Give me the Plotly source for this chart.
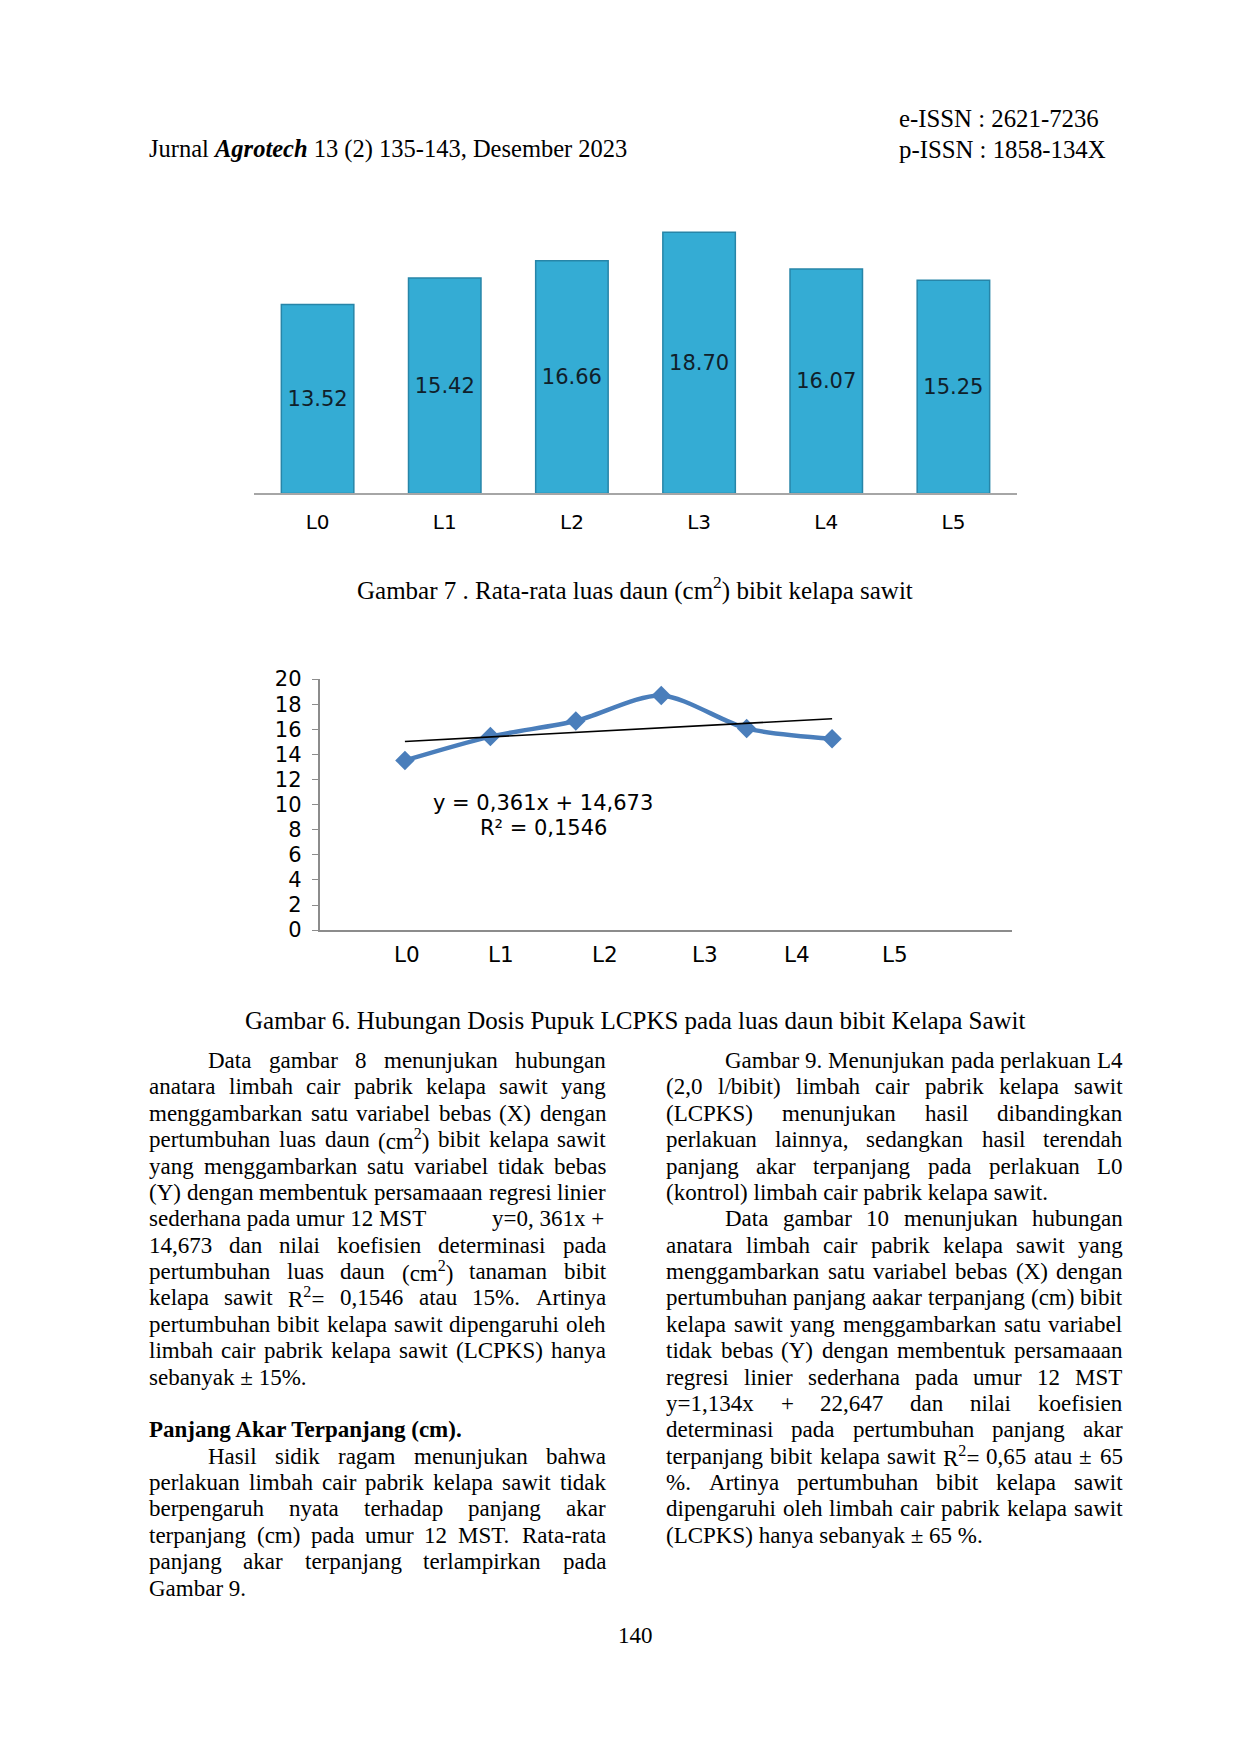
import numpy as np
import plotly.graph_objects as go

# ── data ──────────────────────────────────────
PERLAKUAN = ["L0", "L1", "L2", "L3", "L4", "L5"]
LUAS_DAUN = [13.52, 15.42, 16.66, 18.70, 16.07, 15.25]
X_DOSIS = [1, 2, 3, 4, 5, 6]
Y_TICKS = list(range(0, 21, 2))
EQ_TEXT = "y = 0,361x + 14,673"
R2_TEXT = "R² = 0,1546"

# ── page geometry (pixels of the page) ────────
PAGE_W, PAGE_H = 1240, 1754
OFF = 8                      # browser body margin (horizontal)
W, H = PAGE_W - OFF, PAGE_H - OFF
TOP, K = 18.7, 0.987         # measured vertical placement of the rendered figure


def px(x):
    return (x - OFF) / W


def py(y):
    return 1 - ((y - TOP) / K) / H


SERIF = "Liberation Serif, Times New Roman, serif"
SANS = "DejaVu Sans, Verdana, sans-serif"
FS = 23

# Times-metric advance widths (per 1000 em)
TW = {' ': 250, 'a': 444, 'b': 500, 'c': 444, 'd': 500, 'e': 444, 'f': 333, 'g': 500,
      'h': 500, 'i': 278, 'j': 278, 'k': 500, 'l': 278, 'm': 778, 'n': 500, 'o': 500,
      'p': 500, 'q': 500, 'r': 333, 's': 389, 't': 278, 'u': 500, 'v': 500, 'w': 722,
      'x': 500, 'y': 500, 'z': 444, 'A': 722, 'B': 667, 'C': 667, 'D': 722, 'E': 611,
      'F': 556, 'G': 722, 'H': 722, 'I': 333, 'J': 389, 'K': 722, 'L': 611, 'M': 889,
      'N': 722, 'O': 722, 'P': 556, 'Q': 722, 'R': 667, 'S': 556, 'T': 611, 'U': 722,
      'V': 722, 'W': 944, 'X': 722, 'Y': 722, 'Z': 611, '.': 250, ',': 250, '(': 333,
      ')': 333, '-': 333, '=': 564, '+': 564, '%': 833, '±': 564, '/': 278, ':': 278}


def word_width(w, fs=FS):
    total = 0.0
    sup = False
    i = 0
    while i < len(w):
        if w.startswith("<sup>", i):
            sup = True
            i += 5
            continue
        if w.startswith("</sup>", i):
            sup = False
            i += 6
            continue
        c = w[i]
        cw = 500 if c.isdigit() else TW.get(c, 500)
        total += cw * (0.7 if sup else 1.0)
        i += 1
    return total * fs / 1000


LEFT_COL = [
    ("j", 1, "Data gambar 8 menunjukan hubungan"),
    ("j", 0, "anatara limbah cair pabrik kelapa sawit yang"),
    ("j", 0, "menggambarkan satu variabel bebas (X) dengan"),
    ("j", 0, "pertumbuhan luas daun (cm<sup>2</sup>) bibit kelapa sawit"),
    ("j", 0, "yang menggambarkan satu variabel tidak bebas"),
    ("j", 0, "(Y) dengan membentuk persamaaan regresi linier"),
    ("t", 0, "sederhana pada umur 12 MST\ty=0, 361x +"),
    ("j", 0, "14,673 dan nilai koefisien determinasi pada"),
    ("j", 0, "pertumbuhan luas daun (cm<sup>2</sup>) tanaman bibit"),
    ("j", 0, "kelapa sawit R<sup>2</sup>= 0,1546 atau 15%. Artinya"),
    ("j", 0, "pertumbuhan bibit kelapa sawit dipengaruhi oleh"),
    ("j", 0, "limbah cair pabrik kelapa sawit (LCPKS) hanya"),
    ("l", 0, "sebanyak ± 15%."),
    ("l", 0, ""),
    ("l", 0, "<b>Panjang Akar Terpanjang (cm).</b>"),
    ("j", 1, "Hasil sidik ragam menunjukan bahwa"),
    ("j", 0, "perlakuan limbah cair pabrik kelapa sawit tidak"),
    ("j", 0, "berpengaruh nyata terhadap panjang akar"),
    ("j", 0, "terpanjang (cm) pada umur 12 MST. Rata-rata"),
    ("j", 0, "panjang akar terpanjang terlampirkan pada"),
    ("l", 0, "Gambar 9."),
]

RIGHT_COL = [
    ("j", 1, "Gambar 9. Menunjukan pada perlakuan L4"),
    ("j", 0, "(2,0 l/bibit) limbah cair pabrik kelapa sawit"),
    ("j", 0, "(LCPKS) menunjukan hasil dibandingkan"),
    ("j", 0, "perlakuan lainnya, sedangkan hasil terendah"),
    ("j", 0, "panjang akar terpanjang pada perlakuan L0"),
    ("l", 0, "(kontrol) limbah cair pabrik kelapa sawit."),
    ("j", 1, "Data gambar 10 menunjukan hubungan"),
    ("j", 0, "anatara limbah cair pabrik kelapa sawit yang"),
    ("j", 0, "menggambarkan satu variabel bebas (X) dengan"),
    ("j", 0, "pertumbuhan panjang aakar terpanjang (cm) bibit"),
    ("j", 0, "kelapa sawit yang menggambarkan satu variabel"),
    ("j", 0, "tidak bebas (Y) dengan membentuk persamaaan"),
    ("j", 0, "regresi linier sederhana pada umur 12 MST"),
    ("j", 0, "y=1,134x + 22,647 dan nilai koefisien"),
    ("j", 0, "determinasi pada pertumbuhan panjang akar"),
    ("j", 0, "terpanjang bibit kelapa sawit R<sup>2</sup>= 0,65 atau ± 65"),
    ("j", 0, "%. Artinya pertumbuhan bibit kelapa sawit"),
    ("j", 0, "dipengaruhi oleh limbah cair pabrik kelapa sawit"),
    ("l", 0, "(LCPKS) hanya sebanyak ± 65 %."),
]

annotations = []


def txt(x, y, text, size=FS, family=SERIF, xanchor="left", color="#000000"):
    annotations.append(dict(
        x=px(x), y=py(y), xref="paper", yref="paper", text=text, showarrow=False,
        xanchor=xanchor, yanchor="middle", borderpad=0,
        font=dict(family=family, size=size, color=color),
    ))


def column(lines, left, right, top, step=26.4, indent=59):
    for i, (mode, ind, line) in enumerate(lines):
        y = top + i * step
        x0 = left + indent * ind
        if not line:
            continue
        if mode == "l":
            txt(x0, y, line)
        elif mode == "t":
            a, b = line.split("\t")
            txt(x0, y, a)
            txt(right, y, b, xanchor="right")
        else:
            words = line.split()
            widths = [word_width(w) for w in words]
            gap = (right - x0 - sum(widths)) / (len(words) - 1)
            x = x0
            for w, ww in zip(words, widths):
                txt(x, y, w)
                x += ww + gap


column(LEFT_COL, 148, 605, 1060)
column(RIGHT_COL, 665, 1121.5, 1060)

# header, captions, page number
txt(148, 148, "Jurnal <b><i>Agrotech</i></b> 13 (2) 135-143, Desember 2023", size=24.5)
txt(898, 117, "e-ISSN : 2621-7236", size=24.8)
txt(898, 148, "p-ISSN : 1858-134X", size=24.8)
txt(635, 588, "Gambar 7 . Rata-rata luas daun (cm<sup>2</sup>) bibit kelapa sawit",
    size=25, xanchor="center")
txt(635, 1020, "Gambar 6. Hubungan Dosis Pupuk LCPKS pada luas daun bibit Kelapa Sawit",
    size=25, xanchor="center")
txt(635, 1635, "140", xanchor="center")

# ── figure ───────────────────────────────────
fig = go.Figure()

# Gambar 7: bar chart
fig.add_trace(go.Bar(
    x=PERLAKUAN, y=LUAS_DAUN,
    text=[f"{v:.2f}" for v in LUAS_DAUN],
    textposition="inside", insidetextanchor="middle", textangle=0,
    constraintext="none",
    textfont=dict(family=SANS, size=21, color="#10202a"),
    marker=dict(color="#34ACD4", line=dict(color="#2785A8", width=1.5)),
    xaxis="x", yaxis="y", showlegend=False, hoverinfo="skip",
))

# Gambar 6: line chart + linear trend
slope, intercept = np.polyfit(X_DOSIS, LUAS_DAUN, 1)
fitted = slope * np.array(X_DOSIS) + intercept

fig.add_trace(go.Scatter(
    x=X_DOSIS, y=LUAS_DAUN, mode="lines+markers",
    line=dict(color="#4A7EBB", width=4.5, shape="spline", smoothing=0.8),
    marker=dict(symbol="diamond", size=15, color="#4A7EBB"),
    xaxis="x2", yaxis="y2", showlegend=False, hoverinfo="skip",
))
fig.add_trace(go.Scatter(
    x=[X_DOSIS[0], X_DOSIS[-1]], y=[fitted[0], fitted[-1]], mode="lines",
    line=dict(color="#000000", width=1.6),
    xaxis="x2", yaxis="y2", showlegend=False, hoverinfo="skip",
))

txt(432, 802, EQ_TEXT, size=21, family=SANS)
txt(479, 827, R2_TEXT, size=21, family=SANS)

# x labels of the line chart sit where they were dragged in the original
LABEL_POS = [1.02, 2.12, 3.34, 4.51, 5.59, 6.74]
for xp, lab in zip(LABEL_POS, PERLAKUAN):
    annotations.append(dict(
        x=xp, y=py(954), xref="x2", yref="paper", text=lab, showarrow=False,
        xanchor="center", yanchor="middle",
        font=dict(family=SANS, size=21.5, color="#000000"),
    ))

fig.update_layout(
    width=W, height=H,
    margin=dict(l=0, r=0, t=0, b=0),
    paper_bgcolor="#ffffff", plot_bgcolor="rgba(0,0,0,0)",
    bargap=0.43,
    xaxis=dict(
        domain=[px(254), px(1017)], showline=True, linecolor="#A6A6A6", linewidth=2,
        ticks="", showgrid=False, zeroline=False, fixedrange=True,
        tickfont=dict(family=SANS, size=20, color="#000000"), ticklabelstandoff=10,
    ),
    yaxis=dict(
        domain=[py(492.5), py(231 - (492.5 - 231) * (20 - 18.7) / 18.7)],
        range=[0, 20], visible=False, fixedrange=True,
    ),
    xaxis2=dict(
        domain=[px(319.5), px(1011.5)], range=[0, 8.1], showline=True,
        linecolor="#8C8C8C", linewidth=1.5, ticks="", showticklabels=False,
        showgrid=False, zeroline=False, anchor="y2", fixedrange=True,
    ),
    yaxis2=dict(
        domain=[py(929.5), py(678.3)], range=[0, 20], tickvals=Y_TICKS,
        showline=True, linecolor="#8C8C8C", linewidth=1.5, ticks="outside",
        ticklen=6, tickcolor="#8C8C8C", showgrid=False, zeroline=False,
        tickfont=dict(family=SANS, size=21, color="#000000"), anchor="x2",
        ticklabelstandoff=6, fixedrange=True,
    ),
    annotations=annotations,
)

fig.write_html("out.html")
